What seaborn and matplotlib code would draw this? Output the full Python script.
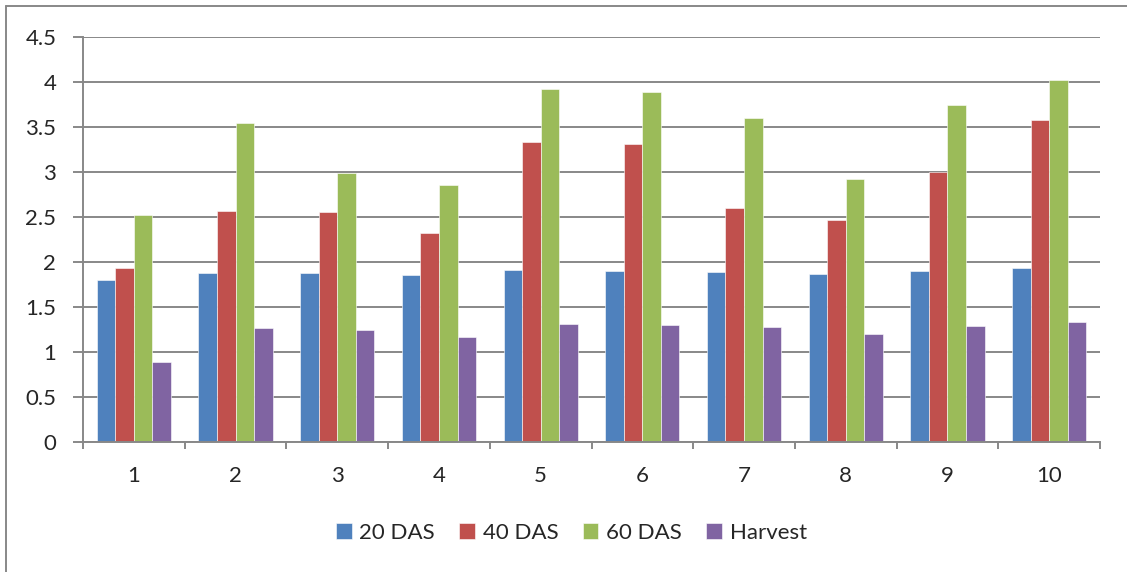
import matplotlib
matplotlib.use("Agg")
import matplotlib.pyplot as plt
import seaborn as sns
import pandas as pd
import numpy as np

categories = ["1", "2", "3", "4", "5", "6", "7", "8", "9", "10"]
das20 = [1.80, 1.88, 1.88, 1.86, 1.91, 1.90, 1.89, 1.87, 1.90, 1.93]
das40 = [1.93, 2.57, 2.56, 2.32, 3.33, 3.31, 2.60, 2.47, 3.00, 3.58]
das60 = [2.52, 3.55, 2.99, 2.86, 3.92, 3.89, 3.60, 2.92, 3.75, 4.02]
harvest = [0.89, 1.27, 1.25, 1.17, 1.31, 1.30, 1.28, 1.20, 1.29, 1.33]
series_names = ["20 DAS", "40 DAS", "60 DAS", "Harvest"]
colors = ["#4F81BD", "#C0504D", "#9BBB59", "#8064A2"]

rows = []
for name, vals in zip(series_names, [das20, das40, das60, harvest]):
    for c, v in zip(categories, vals):
        rows.append({"cat": c, "series": name, "value": v})
df = pd.DataFrame(rows)

sns.set_style("white")
plt.rcParams["font.family"] = ["Lato", "DejaVu Sans"]

fig = plt.figure(figsize=(11.27, 5.72), dpi=100)
ax = fig.add_axes([83/1127, 1 - 442/572, (1100 - 83)/1127, (442 - 37)/572])

sns.barplot(data=df, x="cat", y="value", hue="series", order=categories,
            hue_order=series_names, palette=colors, saturation=1, width=0.73,
            edgecolor="white", linewidth=0.4, ax=ax, legend=True)

ax.set_ylim(0, 4.5)
ax.set_xlim(-0.5, 9.5)
ax.set_yticks(np.arange(0, 4.51, 0.5))
ax.set_yticklabels(["0", "0.5", "1", "1.5", "2", "2.5", "3", "3.5", "4", "4.5"])
ax.yaxis.grid(True, color="#888888", linewidth=1.4)
ax.set_axisbelow(True)
ax.set_xlabel("")
ax.set_ylabel("")

for s in ["top", "right"]:
    ax.spines[s].set_visible(False)
for s in ["left", "bottom"]:
    ax.spines[s].set_color("#888888")
    ax.spines[s].set_linewidth(1.4)

ax.tick_params(axis="y", which="major", length=7.2, width=1.4, color="#888888",
               labelsize=16, pad=12, left=True)
ax.tick_params(axis="x", which="major", length=0, labelsize=16, pad=17)
ax.set_xticks(np.arange(-0.5, 9.6, 1), minor=True)
ax.tick_params(axis="x", which="minor", length=5, width=1.4, color="#888888", bottom=True)

handles, labels = ax.get_legend_handles_labels()
ax.get_legend().remove()
fig.legend(handles, labels, loc="center", bbox_to_anchor=(0.507, 1 - 533/572),
           ncol=4, frameon=False, fontsize=16, handlelength=0.7, handleheight=0.7,
           handletextpad=0.35, columnspacing=1.1)

# outer chart frame (left and top visible)
fig.add_artist(plt.Line2D([6/1127, 6/1127], [0, 1 - 6/572], color="#888888", linewidth=1.4))
fig.add_artist(plt.Line2D([6/1127, 1], [1 - 6/572, 1 - 6/572], color="#888888", linewidth=1.4))

fig.savefig("out.png", dpi=100)
